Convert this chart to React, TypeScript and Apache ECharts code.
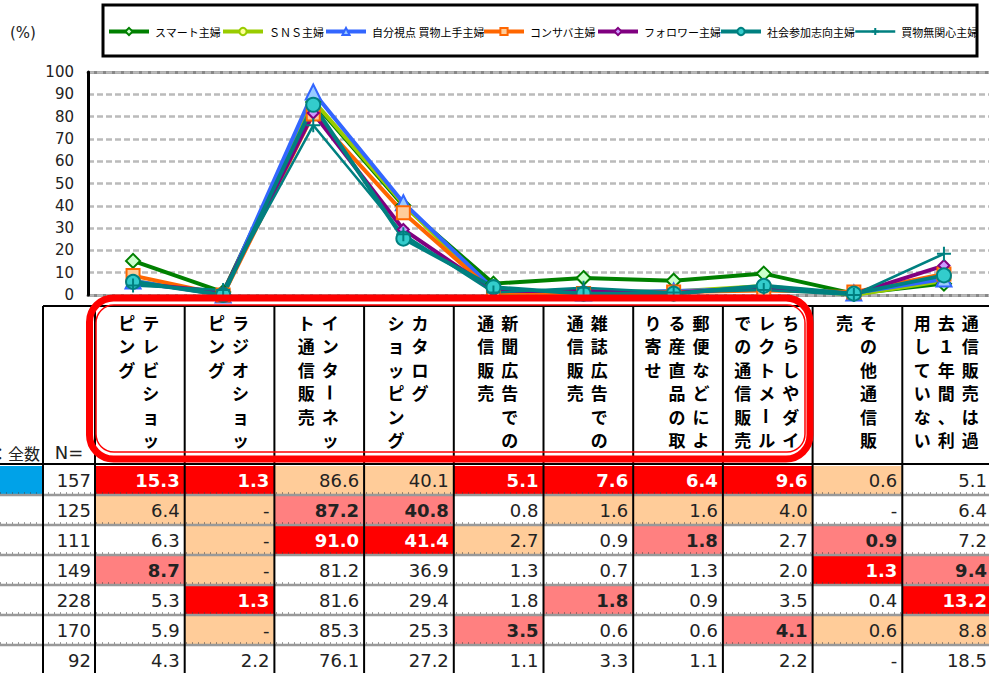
import React, { useEffect, useRef } from "react";
import * as echarts from "echarts";

const CATEGORIES = [
  "テレビショッピング",
  "ラジオショッピング",
  "インターネット通信販売",
  "カタログショッピング",
  "新聞広告での通信販売",
  "雑誌広告での通信販売",
  "郵便などによる産直品の取り寄せ",
  "ちらしやダイレクトメールでの通信販売",
  "その他通信販売",
  "通信販売は過去１年間、利用していない",
];

// header text split into vertical columns (right to left)
const HEADER_LINES: string[][] = [
  ["テレビショッ", "ピング"],
  ["ラジオショッ", "ピング"],
  ["インターネッ", "ト通信販売"],
  ["カタログ", "ショッピング"],
  ["新聞広告での", "通信販売"],
  ["雑誌広告での", "通信販売"],
  ["郵便などによ", "る産直品の取", "り寄せ"],
  ["ちらしやダイ", "レクトメール", "での通信販売"],
  ["その他通信販", "売"],
  ["通信販売は過", "去１年間、利", "用していない"],
];

const SERIES_NAMES = [
  "スマート主婦",
  "ＳＮＳ主婦",
  "自分視点 買物上手主婦",
  "コンサバ主婦",
  "フォロワー主婦",
  "社会参加志向主婦",
  "買物無関心主婦",
];

const N_VALUES = [157, 125, 111, 149, 228, 170, 92];

const SMART = [15.3, 1.3, 86.6, 40.1, 5.1, 7.6, 6.4, 9.6, 0.6, 5.1];
const SNS = [6.4, null, 87.2, 40.8, 0.8, 1.6, 1.6, 4.0, null, 6.4];
const JIBUN = [6.3, null, 91.0, 41.4, 2.7, 0.9, 1.8, 2.7, 0.9, 7.2];
const CONSERVA = [8.7, null, 81.2, 36.9, 1.3, 0.7, 1.3, 2.0, 1.3, 9.4];
const FOLLOWER = [5.3, 1.3, 81.6, 29.4, 1.8, 1.8, 0.9, 3.5, 0.4, 13.2];
const SHAKAI = [5.9, null, 85.3, 25.3, 3.5, 0.6, 0.6, 4.1, 0.6, 8.8];
const MUKANSHIN = [4.3, 2.2, 76.1, 27.2, 1.1, 3.3, 1.1, 2.2, null, 18.5];

const ROW_VALUES: (number | null)[][] = [SMART, SNS, JIBUN, CONSERVA, FOLLOWER, SHAKAI, MUKANSHIN];

// 0 none, 1 peach, 2 pink, 3 red
const ROW_HIGHLIGHT: number[][] = [
  [3, 3, 1, 1, 3, 3, 3, 3, 1, 0],
  [1, 1, 2, 2, 0, 1, 1, 1, 0, 0],
  [0, 1, 3, 3, 1, 0, 2, 0, 2, 0],
  [2, 1, 0, 0, 0, 0, 0, 0, 3, 2],
  [0, 3, 0, 0, 0, 2, 0, 0, 0, 3],
  [0, 1, 0, 0, 2, 0, 0, 2, 1, 1],
  [0, 0, 0, 0, 0, 0, 0, 0, 0, 0],
];

const LINE_COLORS = ["#008000", "#99CC00", "#3366FF", "#FF6600", "#800080", "#008080", "#008080"];
const SYMBOL_FILLS = ["#CCFFCC", "#FFFF99", "#99CCFF", "#FFCC99", "#CC99FF", "#33CCCC", "#008080"];
const SYMBOLS = ["diamond", "circle", "triangle", "rect", "diamond", "circle", "path://M0,5L10,5M5,0L5,10"];
const SYMBOL_SIZES = [14, 8, 15, 13, 11, 14, 14];
const LINE_WIDTHS = [4, 4, 4, 4, 4, 4, 2.5];
const LEGEND_LEFTS = [107, 221, 324, 482, 596, 719, 854];

const CELL_FILLS = ["#FFFFFF", "#FFCC99", "#FF8080", "#FF0000"];

export default function App() {
  const ref = useRef<HTMLDivElement>(null);

  useEffect(() => {
    document.body.style.margin = "0";
    if (!ref.current) return;
    const chart = echarts.init(ref.current, undefined, { renderer: "svg" });

    const JP = "'Noto Sans CJK JP', 'Noto Sans', sans-serif";
    const NUM = "'DejaVu Sans', sans-serif";

    const tableX0 = 95;
    const colW = 89.7;
    const headerTop = 306;
    const headerBottom = 464;
    const rowTop = 465;
    const rowH = 30;

    const g: any[] = [];

    // legend box
    g.push({
      type: "rect",
      shape: { x: 103, y: 5, width: 874, height: 51 },
      style: { fill: "none", stroke: "#000", lineWidth: 3 },
      z: 1,
    });
    g.push({
      type: "text",
      x: 10,
      y: 33,
      style: { text: "(%)", font: `15px ${NUM}`, fill: "#222", textVerticalAlign: "middle" },
    });

    // cell fills
    ROW_VALUES.forEach((row, r) => {
      const y = rowTop + r * rowH;
      if (r === 0) {
        g.push({ type: "rect", shape: { x: 0, y: y + 1, width: 43, height: rowH - 2 }, style: { fill: "#00A2E8" }, z: 1 });
      }
      row.forEach((_, c) => {
        const lvl = ROW_HIGHLIGHT[r][c];
        if (lvl > 0) {
          g.push({
            type: "rect",
            shape: { x: tableX0 + c * colW, y: y + 1, width: colW, height: rowH - 2 },
            style: { fill: CELL_FILLS[lvl] },
            z: 1,
          });
        }
      });
    });

    // row separators
    for (let r = 1; r < ROW_VALUES.length; r++) {
      const y = rowTop + r * rowH;
      g.push({ type: "line", shape: { x1: 0, y1: y, x2: 989, y2: y }, style: { stroke: "#999", lineWidth: 2.5 }, z: 2 });
      g.push({
        type: "line",
        shape: { x1: 0, y1: y - 2, x2: 989, y2: y - 2 },
        style: { stroke: "#444", lineWidth: 1, lineDash: [1, 5] },
        z: 2,
      });
    }
    // header lines
    g.push({ type: "line", shape: { x1: 43, y1: headerTop, x2: 989, y2: headerTop }, style: { stroke: "#000", lineWidth: 2 }, z: 3 });
    g.push({ type: "line", shape: { x1: 0, y1: headerBottom, x2: 989, y2: headerBottom }, style: { stroke: "#000", lineWidth: 2 }, z: 3 });
    // vertical lines
    const vxs = [43];
    for (let k = 0; k <= CATEGORIES.length; k++) vxs.push(tableX0 + k * colW);
    vxs.forEach((x) => {
      g.push({ type: "line", shape: { x1: x, y1: headerTop, x2: x, y2: 673 }, style: { stroke: "#000", lineWidth: 2 }, z: 3 });
    });

    // header texts
    g.push({
      type: "text",
      x: 40,
      y: 453,
      style: { text: "ベース：全数", font: `16px ${JP}`, fill: "#222", textAlign: "right", textVerticalAlign: "middle" },
      z: 4,
    });
    g.push({
      type: "text",
      x: 69,
      y: 452,
      style: { text: "N=", font: `18px ${NUM}`, fill: "#222", textAlign: "center", textVerticalAlign: "middle" },
      z: 4,
    });

    HEADER_LINES.forEach((lines, c) => {
      const cx = tableX0 + c * colW + colW / 2 - 1;
      const n = lines.length;
      lines.forEach((line, li) => {
        const x = cx + ((n - 1) / 2 - li) * 24;
        Array.from(line).forEach((ch, ci) => {
          const y = 322 + ci * 23.5;
          const isBar = ch === "ー";
          g.push({
            type: "text",
            x,
            y,
            rotation: isBar ? -Math.PI / 2 : 0,
            style: {
              text: ch,
              font: `bold 17px ${JP}`,
              fill: "#000",
              textAlign: "center",
              textVerticalAlign: "middle",
            },
            z: 4,
          });
        });
      });
    });

    // body texts
    ROW_VALUES.forEach((row, r) => {
      const y = rowTop + r * rowH + 15;
      g.push({
        type: "text",
        x: 91,
        y,
        style: { text: String(N_VALUES[r]), font: `18px ${NUM}`, fill: "#222", textAlign: "right", textVerticalAlign: "middle" },
        z: 4,
      });
      row.forEach((v, c) => {
        const lvl = ROW_HIGHLIGHT[r][c];
        const bold = lvl >= 2;
        g.push({
          type: "text",
          x: tableX0 + (c + 1) * colW - 5,
          y,
          style: {
            text: v == null ? "-" : v.toFixed(1),
            font: `${bold ? "bold " : ""}18px ${NUM}`,
            fill: lvl === 3 ? "#fff" : "#222",
            textAlign: "right",
            textVerticalAlign: "middle",
          },
          z: 4,
        });
      });
    });

    // red rounded highlight
    g.push({
      type: "rect",
      shape: { x: 89.5, y: 298, width: 720.5, height: 161, r: 24 },
      style: { fill: "none", stroke: "#FF0000", lineWidth: 7 },
      z: 50,
    });
    g.push({
      type: "rect",
      shape: { x: 96, y: 305, width: 709, height: 147, r: 18 },
      style: { fill: "none", stroke: "#FF0000", lineWidth: 1.5 },
      z: 50,
    });

    const series = SERIES_NAMES.map((name, i) => ({
      name,
      type: "line",
      xAxisIndex: 0,
      data: ROW_VALUES[i].map((v) => (v == null ? 0 : v)),
      symbol: SYMBOLS[i],
      symbolSize: SYMBOL_SIZES[i],
      showAllSymbol: true,
      lineStyle: { color: LINE_COLORS[i], width: LINE_WIDTHS[i] },
      itemStyle: { color: SYMBOL_FILLS[i], borderColor: LINE_COLORS[i], borderWidth: 2 },
      emphasis: { disabled: true },
      z: 10,
    }));

    const legends = SERIES_NAMES.map((name, i) => ({
      data: [name],
      left: LEGEND_LEFTS[i],
      top: 26,
      itemWidth: 40,
      itemHeight: 9,
      padding: 0,
      selectedMode: false,
      lineStyle: { width: i === 6 ? 2.5 : 4 },
      textStyle: { fontSize: 11, color: "#000", fontFamily: JP, padding: [0, 0, 0, 1] },
    }));

    chart.setOption({
      animation: false,
      grid: { left: 88, top: 72, width: 906, height: 223 },
      legend: legends,
      xAxis: [
        {
          type: "category",
          data: CATEGORIES,
          axisLine: { lineStyle: { color: "#888", width: 3 } },
          axisTick: { show: false },
          axisLabel: { show: false },
        },
        {
          type: "category",
          position: "top",
          data: CATEGORIES,
          axisLine: { lineStyle: { color: "#888", width: 3 } },
          axisTick: { show: false },
          axisLabel: { show: false },
        },
      ],
      yAxis: {
        type: "value",
        min: 0,
        max: 100,
        interval: 10,
        axisLine: { show: true, lineStyle: { color: "#000", width: 3 } },
        axisTick: { show: false },
        axisLabel: { fontSize: 15, color: "#222", fontFamily: NUM, margin: 14 },
        splitLine: { lineStyle: { color: "#BBB", width: 2.5, type: [6, 3] } },
        z: 5,
      },
      series,
      graphic: g,
    });

    return () => chart.dispose();
  }, []);

  return <div ref={ref} style={{ width: 989, height: 673 }} />;
}
